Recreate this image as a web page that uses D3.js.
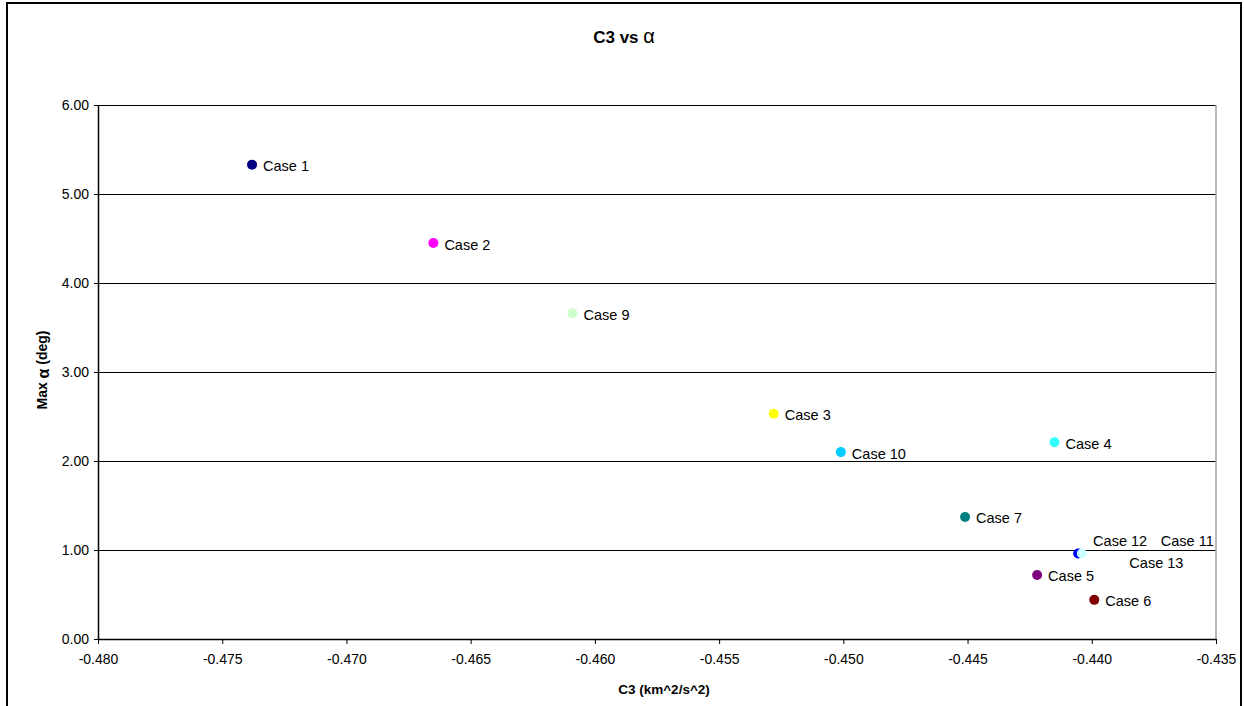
<!DOCTYPE html>
<html><head><meta charset="utf-8">
<script src="https://cdn.jsdelivr.net/npm/d3@7"></script>
<style>body{margin:0;background:#fff}svg{font-family:"Liberation Sans",Arial,sans-serif}</style>
</head><body>
<svg id="c" width="1244" height="706"></svg>
<script>
const cases = ["Case 1","Case 2","Case 9","Case 3","Case 10","Case 4","Case 7","Case 5","Case 6","Case 13","Case 12","Case 11"];
const c3 = [-0.4738,-0.4665,-0.4609,-0.4528,-0.4501,-0.4415,-0.4451,-0.4422,-0.4399,-0.44050,-0.44055,-0.44040];
const maxAlpha = [5.33,4.45,3.66,2.53,2.10,2.21,1.37,0.72,0.44,0.96,0.96,0.96];
const colors = ["#000080","#FF00FF","#CCFFCC","#FFFF00","#00CCFF","#33FFFF","#008080","#800080","#800000","#99CCFF","#0000FF","#CCFFFF"];
// label offsets (dx, dy) relative to point, as manually placed in the original chart
const labelOffset = [[11,1],[11,2],[11,2],[11,1],[11,2],[11,2],[11,1],[11,1],[11,1],[50,9],[15,-13],[79,-13]];
const xTicks = [-0.480,-0.475,-0.470,-0.465,-0.460,-0.455,-0.450,-0.445,-0.440,-0.435];
const yTicks = [0,1,2,3,4,5,6];

const svg = d3.select("#c");
const L=98,R=1216,T=105,B=639;
const x = d3.scaleLinear().domain([-0.480,-0.435]).range([L,R]);
const y = d3.scaleLinear().domain([0,6]).range([B,T]);

// outer border
svg.append("rect").attr("x",7).attr("y",3).attr("width",1234).attr("height",710)
  .attr("fill","#fff").attr("stroke","#000").attr("stroke-width",2);

// grid lines
svg.append("g").selectAll("line").data(yTicks.filter(d=>d>0)).join("line")
  .attr("x1",L).attr("x2",R).attr("y1",d=>y(d)).attr("y2",d=>y(d))
  .attr("stroke","#000").attr("stroke-width",1).attr("shape-rendering","crispEdges");
// right plot border
svg.append("line").attr("x1",R).attr("x2",R).attr("y1",T).attr("y2",B)
  .attr("stroke","#a0a0a0").attr("stroke-width",1.5);

// axes
const xAxis = d3.axisBottom(x).tickValues(xTicks).tickFormat(d3.format(".3f")).tickSize(5).tickSizeOuter(0);
const gx = svg.append("g").attr("transform",`translate(0,${B})`).call(xAxis);
gx.select(".domain").attr("stroke","#000").attr("stroke-width",1.5);
gx.selectAll(".tick line").attr("stroke","#000");
gx.selectAll("text").attr("font-size",14).attr("fill","#000").attr("y",12).attr("dy","0.9em").attr("font-family","Liberation Sans, Arial, sans-serif")
  .text(d=>d3.format(".3f")(d).replace("−","-"));

const yAxis = d3.axisLeft(y).tickValues(yTicks).tickFormat(d3.format(".2f")).tickSize(4).tickSizeOuter(0);
const gy = svg.append("g").attr("transform",`translate(${L},0)`).call(yAxis);
gy.select(".domain").attr("stroke","#000").attr("stroke-width",1.5);
gy.selectAll(".tick line").attr("stroke","#000");
gy.selectAll("text").attr("font-size",14).attr("fill","#000").attr("x",-9).attr("font-family","Liberation Sans, Arial, sans-serif");

// title
const title = svg.append("text").attr("x",624).attr("y",43).attr("text-anchor","middle")
  .attr("font-size",17).attr("font-weight","bold");
title.append("tspan").text("C3 vs ");
title.append("tspan").attr("font-size",20).attr("font-weight","normal").text("α");

// axis titles
svg.append("text").attr("x",664).attr("y",694).attr("text-anchor","middle")
  .attr("font-size",13.5).attr("font-weight","bold").text("C3 (km^2/s^2)");
const yt = svg.append("text").attr("transform","translate(47,370) rotate(-90)").attr("text-anchor","middle")
  .attr("font-size",14).attr("font-weight","bold");
yt.append("tspan").text("Max ");
yt.append("tspan").attr("font-size",16).attr("dy",2).text("α");
yt.append("tspan").attr("dy",-2).text(" (deg)");

// points
const data = cases.map((n,i)=>({n,x:c3[i],y:maxAlpha[i],c:colors[i],o:labelOffset[i]}));
svg.append("g").selectAll("circle").data(data).join("circle")
  .attr("cx",d=>x(d.x)).attr("cy",d=>y(d.y)).attr("r",5).attr("fill",d=>d.c);
svg.append("g").selectAll("text").data(data).join("text")
  .attr("x",d=>x(d.x)+d.o[0]).attr("y",d=>y(d.y)+d.o[1]).attr("dy","0.35em")
  .attr("font-size",14.5).attr("fill","#000").text(d=>d.n);
</script>
</body></html>
